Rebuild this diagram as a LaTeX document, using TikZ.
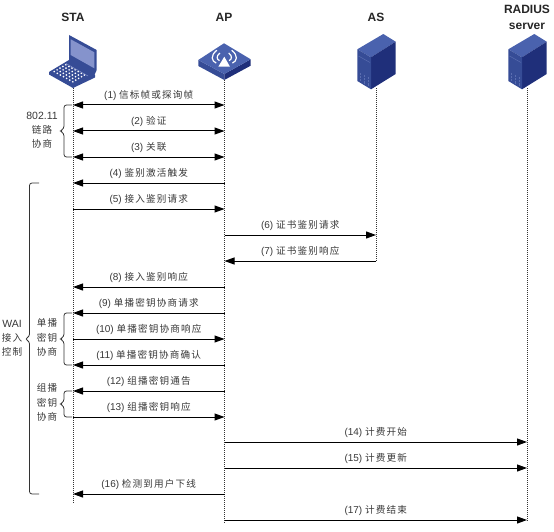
\documentclass[tikz,border=0pt]{standalone}
\usepackage{fontspec}
\setmainfont{Liberation Sans}
\newfontfamily\cjk[LetterSpace=12]{Noto Sans CJK SC}
\usetikzlibrary{arrows.meta,calc}
\definecolor{txt}{HTML}{383838}
\definecolor{bluetop}{HTML}{4A62AE}
\definecolor{blueleft}{HTML}{364C96}
\definecolor{blueright}{HTML}{1F2F7A}
\definecolor{bluescreen}{HTML}{8593CC}
\definecolor{bluemark}{HTML}{5A6DB0}
\newcommand{\zh}[1]{{\cjk\fontsize{9.6}{12}\selectfont #1}}
\newcommand{\lab}[2]{#1 \zh{#2}}
\tikzset{
  life/.style={line width=1pt,black!80,dash pattern=on 1pt off 1pt},
  msg/.style={line width=1pt,black},
  tol/.style={msg,-{Triangle[length=10pt,width=7pt]}},
  both/.style={msg,{Triangle[length=10pt,width=7pt]}-{Triangle[length=10pt,width=7pt]}},
  msglab/.style={font=\fontsize{10}{12}\selectfont,text=txt,inner sep=0pt,yshift=9.5pt},
  title/.style={font=\fontsize{12}{14}\selectfont\bfseries,text=black!85,inner sep=0pt,align=center},
  side/.style={font=\fontsize{10.5}{12}\selectfont,text=txt,inner sep=0pt,align=center},
  brace/.style={line width=0.8pt,black!80,rounded corners=2.5pt},
}
\newcommand{\serverat}[1]{%
  \begin{scope}[shift={(#1,0)}]
    \fill[bluetop] (7.3,34) -- (19.7,41.7) -- (-5,57.3) -- (-18.7,49.3) -- cycle;
    \fill[blueright] (19.7,41.7) -- (19.7,74) -- (-5,89.3) -- (-5,57.3) -- cycle;
    \fill[blueleft] (-18.7,49.3) -- (-5,57.3) -- (-5,89.3) -- (-18.7,81) -- cycle;
    \draw[bluemark,line width=0.5pt] (-17.5,56) -- (-6,62.5);
    \draw[bluemark,line width=0.5pt,dash pattern=on 0.7pt off 0.7pt] (-16,73) -- (-16,81);
    \draw[bluemark,line width=0.5pt,dash pattern=on 0.7pt off 0.7pt] (-12,75) -- (-12,84);
    \draw[bluemark,line width=0.5pt,dash pattern=on 0.7pt off 0.7pt] (-8,77) -- (-8,86);
  \end{scope}}
\begin{document}
\begin{tikzpicture}[x=1pt,y=-1pt]
\useasboundingbox (0,0) rectangle (554,532);
\foreach \n/\y in {1/105,2/131,3/157,4/183,5/209,6/235,7/261,8/287,9/313,10/339,11/365,12/391,13/417,14/442,15/468,16/494,17/520}{
  \coordinate (s\n) at (73,\y);
  \coordinate (a\n) at (224.5,\y);
  \coordinate (r\n) at (376,\y);
  \coordinate (d\n) at (527,\y);
}
\coordinate (stop) at (73,88);
\coordinate (sbot) at (73,503);
\coordinate (atop) at (224.5,80);
\coordinate (abot) at (224.5,523);
\coordinate (rtop) at (376,88);
\coordinate (rbot) at (376,262);
\coordinate (dtop) at (527,88);
\coordinate (dbot) at (527,522);
% lifelines
\draw[life] (stop) -- (sbot);
\draw[life] (atop) -- (abot);
\draw[life] (rtop) -- (rbot);
\draw[life] (dtop) -- (dbot);
% titles
\node[title] (tsta) at (73,17) {STA};
\node[title] (tap) at (224,17) {AP};
\node[title] (tas) at (376,17) {AS};
\node[title] (trad) at (527,17.5) {RADIUS\\[1.5pt]server};
% laptop
\fill[blueleft] (69,35) -- (96.7,50) -- (96.7,70) -- (94,76) -- (69,61) -- cycle;
\fill[bluescreen] (70.7,39.3) -- (94.3,52.3) -- (94.3,68.3) -- (70.7,55) -- cycle;
\fill[blueleft] (49,72) -- (69,60) -- (95,75) -- (95,77.5) -- (73,88) -- (49,74.5) -- cycle;
\foreach \i in {0,...,6}{\foreach \j in {0,...,4}{
  \fill[white] ({54.2+\i*3.1+\j*2.9},{71.6+\i*1.7-\j*1.7}) circle (0.95pt);
}}
\draw[bluescreen,line width=0.5pt] (66,63.5) -- (88,76);
% AP
\fill[blueleft] (198.3,60) -- (224.3,74) -- (224.3,80) -- (198.3,66) -- cycle;
\fill[blueright] (250.7,59.3) -- (224.3,74) -- (224.3,80) -- (250.7,65.7) -- cycle;
\fill[bluetop] (198.3,60) -- (224,43.3) -- (250.7,59.3) -- (224.3,74) -- cycle;
\fill[white] (218.3,66.7) -- (230,66.7) -- (224.3,56.7) -- cycle;
\foreach \r in {8,13.5}{
  \draw[white,line width=1.2pt] ($(224.3,57)+(-\r*0.55,-\r*0.5)$) .. controls ($(224.3,57)+(-\r*1.05,-\r*0.1)$) and ($(224.3,57)+(-\r*0.95,\r*0.3)$) .. ($(224.3,57)+(-\r*0.6,\r*0.45)$);
  \draw[white,line width=1.2pt] ($(224.3,57)+(\r*0.55,-\r*0.5)$) .. controls ($(224.3,57)+(\r*1.05,-\r*0.1)$) and ($(224.3,57)+(\r*0.95,\r*0.3)$) .. ($(224.3,57)+(\r*0.6,\r*0.45)$);
}
% servers
\serverat{376}
\serverat{527}
% messages
\draw[both] (s1) -- node[msglab] (m1) {\lab{(1)}{信标帧或探询帧}} (a1);
\draw[both] (s2) -- node[msglab] (m2) {\lab{(2)}{验证}} (a2);
\draw[both] (s3) -- node[msglab] (m3) {\lab{(3)}{关联}} (a3);
\draw[tol] (a4) -- node[msglab] (m4) {\lab{(4)}{鉴别激活触发}} (s4);
\draw[tol] (s5) -- node[msglab] (m5) {\lab{(5)}{接入鉴别请求}} (a5);
\draw[tol] (a6) -- node[msglab] (m6) {\lab{(6)}{证书鉴别请求}} (r6);
\draw[tol] (r7) -- node[msglab] (m7) {\lab{(7)}{证书鉴别响应}} (a7);
\draw[tol] (a8) -- node[msglab] (m8) {\lab{(8)}{接入鉴别响应}} (s8);
\draw[tol] (a9) -- node[msglab] (m9) {\lab{(9)}{单播密钥协商请求}} (s9);
\draw[tol] (s10) -- node[msglab] (m10) {\lab{(10)}{单播密钥协商响应}} (a10);
\draw[tol] (a11) -- node[msglab] (m11) {\lab{(11)}{单播密钥协商确认}} (s11);
\draw[tol] (a12) -- node[msglab] (m12) {\lab{(12)}{组播密钥通告}} (s12);
\draw[tol] (s13) -- node[msglab] (m13) {\lab{(13)}{组播密钥响应}} (a13);
\draw[tol] (a14) -- node[msglab] (m14) {\lab{(14)}{计费开始}} (d14);
\draw[tol] (a15) -- node[msglab] (m15) {\lab{(15)}{计费更新}} (d15);
\draw[tol] (a16) -- node[msglab] (m16) {\lab{(16)}{检测到用户下线}} (s16);
\draw[tol] (a17) -- node[msglab] (m17) {\lab{(17)}{计费结束}} (d17);
% braces
\draw[brace] (72,105) -- (64,105) -- (64,128.5) -- (60,131) -- (64,133.5) -- (64,157) -- (72,157);
\draw[brace] (72,313) -- (64,313) -- (64,336.5) -- (60,339) -- (64,341.5) -- (64,365) -- (72,365);
\draw[brace] (72,391) -- (64,391) -- (64,401.5) -- (60,404) -- (64,406.5) -- (64,417) -- (72,417);
\draw[brace] (39,183) -- (29.5,183) -- (29.5,336.5) -- (25,339) -- (29.5,341.5) -- (29.5,494) -- (39,494);
% side labels
\node[side] (l1) at (42,116) {802.11};
\node[side] (l2) at (42,130) {\zh{链路}};
\node[side] (l3) at (42,143.5) {\zh{协商}};
\node[side] (u1) at (47,323) {\zh{单播}};
\node[side] (u2) at (47,338) {\zh{密钥}};
\node[side] (u3) at (47,352) {\zh{协商}};
\node[side] (g1) at (47,388) {\zh{组播}};
\node[side] (g2) at (47,403) {\zh{密钥}};
\node[side] (g3) at (47,417) {\zh{协商}};
\node[side] (w1) at (12,323.5) {WAI};
\node[side] (w2) at (12,338) {\zh{接入}};
\node[side] (w3) at (12,351.5) {\zh{控制}};
\end{tikzpicture}
\end{document}
